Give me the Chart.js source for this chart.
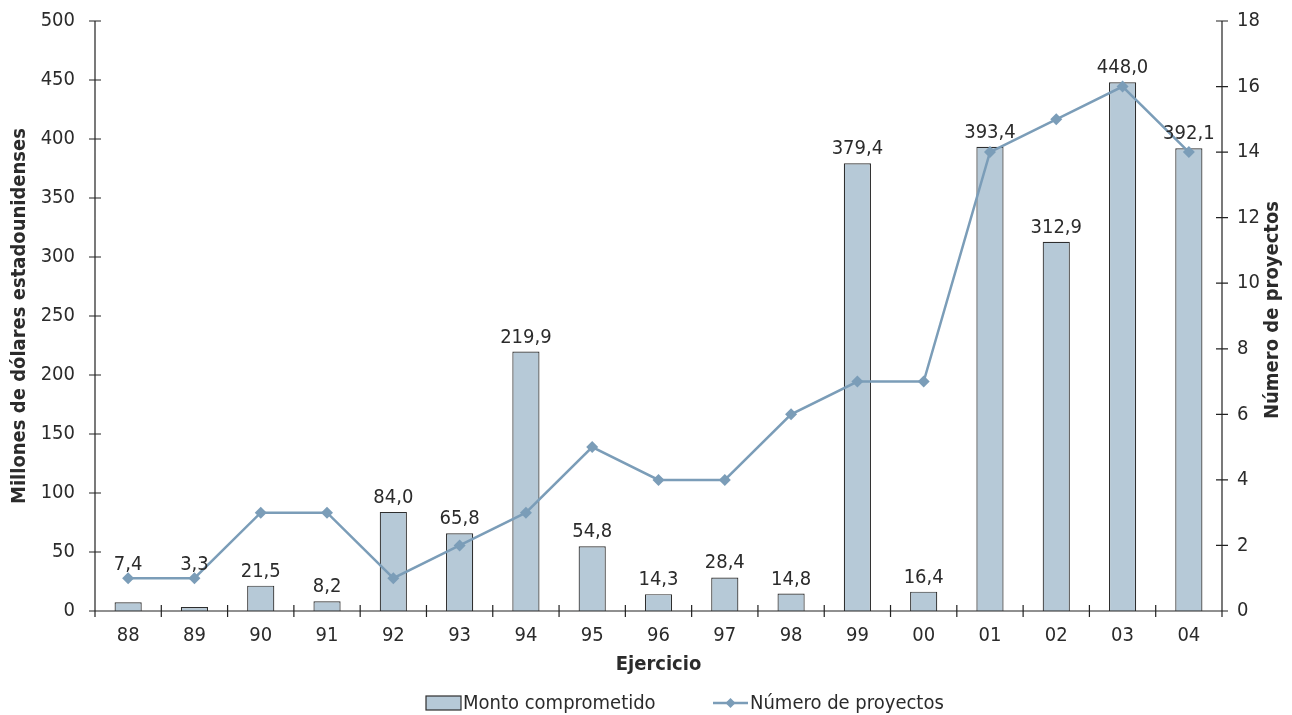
<!DOCTYPE html>
<html>
<head>
<meta charset="utf-8">
<script src="https://cdn.jsdelivr.net/npm/chart.js@4/dist/chart.umd.min.js"></script>
<style>
  html, body { margin: 0; padding: 0; background: #ffffff; }
  #wrap { width: 1292px; height: 715px; }
</style>
</head>
<body>
<div id="wrap"><canvas id="chart" width="1292" height="715"></canvas></div>
<script>
// Fiscal years (two-digit labels)
const years = ['88','89','90','91','92','93','94','95','96','97','98','99','00','01','02','03','04'];
// Committed amount, millions of US dollars
const montoComprometido = [7.4, 3.3, 21.5, 8.2, 84.0, 65.8, 219.9, 54.8, 14.3, 28.4, 14.8, 379.4, 16.4, 393.4, 312.9, 448.0, 392.1];
// Number of projects
const numeroProyectos = [1, 1, 3, 3, 1, 2, 3, 5, 4, 4, 6, 7, 7, 14, 15, 16, 14];

const FONT = '"Liberation Sans Narrow", "DejaVu Sans Condensed", "Roboto", sans-serif';
const TEXT = '#2b2b2b';
const AXIS = '#222222';
const BAR_FILL = '#b6c9d7';
const BAR_EDGE = '#2e2e2e';
const LINE_COL = '#7b9db8';
const FS = 20;

const fmt = v => v.toFixed(1).replace('.', ',');

// Axis lines with cross-through tick marks
const axesPlugin = {
  id: 'crossAxes',
  afterDatasetsDraw(chart) {
    const { ctx, chartArea: a } = chart;
    const y = chart.scales.y, y1 = chart.scales.y1, x = chart.scales.x;
    ctx.save();
    ctx.strokeStyle = AXIS;
    ctx.lineWidth = 1.2;
    ctx.beginPath();
    ctx.moveTo(a.left, a.top); ctx.lineTo(a.left, a.bottom);
    ctx.moveTo(a.right, a.top); ctx.lineTo(a.right, a.bottom);
    ctx.moveTo(a.left, a.bottom); ctx.lineTo(a.right, a.bottom);
    y.ticks.forEach(t => {
      const py = y.getPixelForValue(t.value);
      ctx.moveTo(a.left - 6, py); ctx.lineTo(a.left + 6, py);
    });
    y1.ticks.forEach(t => {
      const py = y1.getPixelForValue(t.value);
      ctx.moveTo(a.right - 6, py); ctx.lineTo(a.right + 6, py);
    });
    const half = (x.getPixelForValue(1) - x.getPixelForValue(0)) / 2;
    for (let i = 0; i <= years.length; i++) {
      const px = x.getPixelForValue(i) - half;
      ctx.moveTo(px, a.bottom - 6); ctx.lineTo(px, a.bottom + 6);
    }
    ctx.stroke();
    ctx.restore();
  }
};

// Value labels above the bars, lifted over a line marker when they would collide
const valueLabels = {
  id: 'valueLabels',
  afterDatasetsDraw(chart) {
    const { ctx } = chart;
    const bars = chart.getDatasetMeta(0).data;
    const pts = chart.getDatasetMeta(1).data;
    ctx.save();
    ctx.font = FS + 'px ' + FONT;
    ctx.fillStyle = TEXT;
    ctx.textAlign = 'center';
    ctx.textBaseline = 'alphabetic';
    bars.forEach((bar, i) => {
      let bottom = bar.y - 9;
      const py = pts[i].y;
      if (py < bar.y && py + 7 > bottom - 16 && py - 7 < bottom) {
        bottom = py - 8;
      }
      ctx.fillText(fmt(montoComprometido[i]), bar.x, bottom);
    });
    ctx.restore();
  }
};

// Right-hand axis title (reads bottom to top) and the legend row
const extras = {
  id: 'extras',
  afterDraw(chart) {
    const { ctx, chartArea: a } = chart;
    ctx.save();
    ctx.fillStyle = TEXT;
    ctx.font = 'bold 20px ' + FONT;
    ctx.textAlign = 'center';
    ctx.textBaseline = 'middle';
    ctx.translate(1273, (a.top + a.bottom) / 2 - 6);
    ctx.rotate(-Math.PI / 2);
    ctx.fillText('Número de proyectos', 0, 0);
    ctx.restore();

    const ly = 703;
    let lx = 426;
    ctx.save();
    ctx.font = FS + 'px ' + FONT;
    ctx.textBaseline = 'middle';
    ctx.textAlign = 'left';
    // bar swatch
    ctx.fillStyle = BAR_FILL;
    ctx.strokeStyle = BAR_EDGE;
    ctx.lineWidth = 1.2;
    ctx.fillRect(lx, ly - 7, 35, 14);
    ctx.strokeRect(lx, ly - 7, 35, 14);
    ctx.fillStyle = TEXT;
    ctx.fillText(chart.data.datasets[0].label, lx + 37, ly + 1);
    // line swatch
    lx = 713;
    ctx.strokeStyle = LINE_COL;
    ctx.lineWidth = 2.5;
    ctx.beginPath();
    ctx.moveTo(lx, ly); ctx.lineTo(lx + 35, ly);
    ctx.stroke();
    ctx.fillStyle = LINE_COL;
    ctx.beginPath();
    const cx = lx + 17.5, r = 5;
    ctx.moveTo(cx, ly - r); ctx.lineTo(cx + r, ly); ctx.lineTo(cx, ly + r); ctx.lineTo(cx - r, ly);
    ctx.closePath(); ctx.fill();
    ctx.fillStyle = TEXT;
    ctx.fillText(chart.data.datasets[1].label, lx + 37, ly + 1);
    ctx.restore();
  }
};

const noPad = s => { s.paddingTop = 0; s.paddingBottom = 0; };

new Chart(document.getElementById('chart'), {
  data: {
    labels: years,
    datasets: [
      {
        type: 'bar',
        label: 'Monto comprometido',
        data: montoComprometido,
        yAxisID: 'y',
        backgroundColor: BAR_FILL,
        borderColor: BAR_EDGE,
        borderWidth: 1.2,
        barPercentage: 0.41,
        categoryPercentage: 1.0,
        order: 2
      },
      {
        type: 'line',
        label: 'Número de proyectos',
        data: numeroProyectos,
        yAxisID: 'y1',
        borderColor: LINE_COL,
        backgroundColor: LINE_COL,
        borderWidth: 2.5,
        pointStyle: 'rectRot',
        pointRadius: 6,
        pointBorderWidth: 0,
        tension: 0,
        order: 1
      }
    ]
  },
  options: {
    responsive: false,
    maintainAspectRatio: false,
    animation: false,
    events: [],
    layout: { padding: { top: 21, left: 0, right: 0, bottom: 0 } },
    plugins: {
      legend: { display: false },
      tooltip: { enabled: false }
    },
    scales: {
      x: {
        offset: true,
        grid: { display: false, drawTicks: false },
        border: { display: false },
        ticks: { color: TEXT, font: { family: FONT, size: FS }, padding: 13, maxRotation: 0, autoSkip: false },
        title: { display: true, text: 'Ejercicio', color: TEXT, font: { family: FONT, size: 20, weight: 'bold' }, padding: { top: 0, bottom: 38 } },
        afterFit(s) { s.height = 104; s.paddingLeft = 0; s.paddingRight = 0; }
      },
      y: {
        position: 'left',
        min: 0, max: 500,
        ticks: { stepSize: 50, color: TEXT, font: { family: FONT, size: FS }, padding: 20 },
        grid: { display: false, drawTicks: false },
        border: { display: false },
        title: { display: true, text: 'Millones de dólares estadounidenses', color: TEXT, font: { family: FONT, size: 20, weight: 'bold' }, padding: { top: 8, bottom: 0 } },
        afterFit(s) { s.width = 95; noPad(s); }
      },
      y1: {
        position: 'right',
        min: 0, max: 18,
        ticks: { stepSize: 2, color: TEXT, font: { family: FONT, size: FS }, padding: 15 },
        grid: { display: false, drawTicks: false },
        border: { display: false },
        afterFit(s) { s.width = 70; noPad(s); }
      }
    }
  },
  plugins: [axesPlugin, valueLabels, extras]
});
</script>
</body>
</html>
